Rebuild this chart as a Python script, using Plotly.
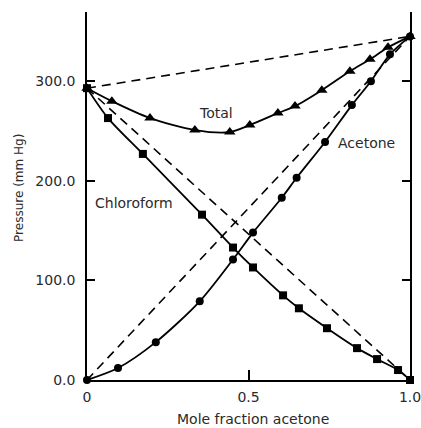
import plotly.graph_objects as go

# ---- data ----
total_x = [0, 0.077, 0.195, 0.334, 0.442, 0.504, 0.591, 0.644, 0.727, 0.814, 0.876, 0.932, 1.0]
total_y = [293, 280, 263, 251, 249, 256, 268, 275, 291, 310, 322, 334, 345]

chloro_x = [0, 0.065, 0.173, 0.356, 0.452, 0.514, 0.607, 0.656, 0.743, 0.836, 0.898, 0.963, 1.0]
chloro_y = [293, 263, 227, 166, 133, 113, 85, 72, 52, 32, 21, 10, 0]

acet_x = [0, 0.096, 0.213, 0.349, 0.452, 0.514, 0.603, 0.649, 0.737, 0.82, 0.879, 0.938, 1.0]
acet_y = [0, 12, 38, 79, 121, 148, 183, 203, 239, 276, 300, 327, 345]

# ideal (Raoult) lines
ideal_x = [0, 1.0]
ideal_total = [293, 345]
ideal_chloro = [293, 0]
ideal_acet = [0, 345]

xticks = [0, 0.5, 1.0]
xticklabels = ["0", "0.5", "1.0"]
yticks = [0, 100, 200, 300]
yticklabels = ["0.0", "100.0", "200.0", "300.0"]

FONT = "DejaVu Sans, Verdana, sans-serif"
TXT = "#2a2a2a"

fig = go.Figure()

dash_line = dict(color="black", width=1.6, dash="9px,6px")
for yy in (ideal_total, ideal_chloro, ideal_acet):
    fig.add_trace(go.Scatter(x=ideal_x, y=yy, mode="lines", line=dash_line,
                             yaxis="y2", showlegend=False, hoverinfo="skip"))

solid = dict(color="black", width=1.8, shape="spline", smoothing=0.8)
fig.add_trace(go.Scatter(x=total_x, y=total_y, mode="lines+markers", line=solid,
                         marker=dict(symbol="triangle-up", size=10, color="black"),
                         cliponaxis=False, showlegend=False))
fig.add_trace(go.Scatter(x=chloro_x, y=chloro_y, mode="lines+markers", line=solid,
                         marker=dict(symbol="square", size=8, color="black"),
                         cliponaxis=False, showlegend=False))
fig.add_trace(go.Scatter(x=acet_x, y=acet_y, mode="lines+markers", line=solid,
                         marker=dict(symbol="circle", size=8, color="black"),
                         cliponaxis=False, showlegend=False))

YR = [0, 369.5]
fig.update_layout(
    width=421, height=428,
    margin=dict(l=87, r=11, t=12, b=48, autoexpand=False),
    paper_bgcolor="white", plot_bgcolor="white",
    font=dict(family=FONT, size=14, color=TXT),
    xaxis=dict(range=[0, 1], showline=True, linecolor="black", linewidth=1.5,
               ticks="inside", ticklen=10, tickwidth=1.5, tickcolor="black",
               tickvals=xticks, ticktext=xticklabels, showgrid=False, zeroline=False,
               automargin=False, ticklabeloverflow="allow",
               ticklabelstandoff=3, tickfont=dict(size=14, color=TXT)),
    yaxis=dict(range=YR, showline=True, linecolor="black", linewidth=1.5,
               ticks="inside", ticklen=8, tickwidth=1.5, tickcolor="black",
               tickvals=yticks, ticktext=yticklabels, showgrid=False, zeroline=False,
               automargin=False, ticklabeloverflow="allow",
               ticklabelstandoff=7, tickfont=dict(size=14, color=TXT)),
    yaxis2=dict(range=YR, overlaying="y", side="right", anchor="x", showline=True,
                linecolor="black", linewidth=1.5, ticks="inside", ticklen=8,
                tickwidth=1.5, tickcolor="black", automargin=False,
                tickvals=[100, 200, 300], showticklabels=False, showgrid=False,
                zeroline=False),
)

labels = [("Total", 0.40, 268), ("Acetone", 0.864, 238), ("Chloroform", 0.146, 178)]
for t, lx, ly in labels:
    fig.add_annotation(x=lx, y=ly, xref="x", yref="y", text=t, showarrow=False,
                       font=dict(size=14, color=TXT))

fig.add_annotation(x=0.514, y=0, xref="paper", yref="paper", yshift=-39,
                   xanchor="center", yanchor="middle",
                   text="Mole fraction acetone", showarrow=False,
                   font=dict(size=14, color=TXT))
fig.add_annotation(x=0, y=0.522, xref="paper", yref="paper", xshift=-68,
                   xanchor="center", yanchor="middle",
                   text="Pressure (mm Hg)", textangle=-90, showarrow=False,
                   font=dict(size=12, color=TXT))

# remove the browser's default 8px body margin so the figure fills the window
fig.write_html("out.html", config={"displayModeBar": False},
               post_script="document.body.style.margin='0';document.body.style.overflow='hidden';")
